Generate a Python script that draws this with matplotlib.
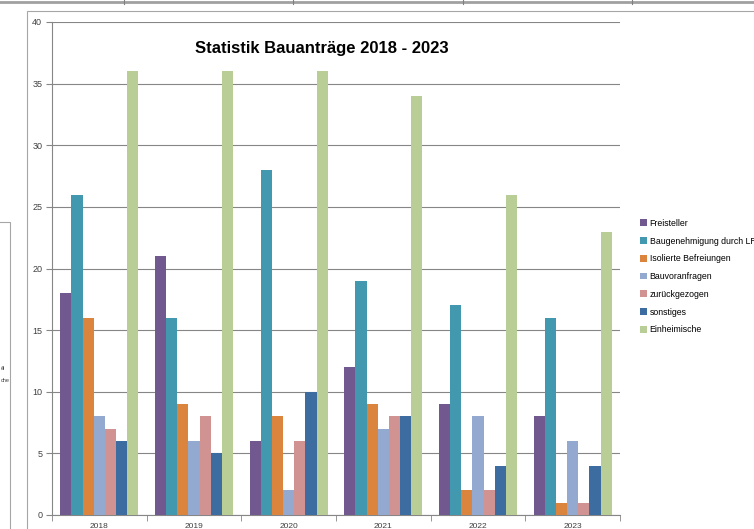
import numpy as np
import matplotlib.pyplot as plt
from matplotlib.patches import Rectangle
from matplotlib.lines import Line2D

plt.rcParams['font.family'] = ['Liberation Sans', 'DejaVu Sans']

years = ['2018', '2019', '2020', '2021', '2022', '2023']
series = ['Freisteller', 'Baugenehmigung durch LRA', 'Isolierte Befreiungen',
          'Bauvoranfragen', 'zurückgezogen', 'sonstiges', 'Einheimische']
freisteller = [18, 21, 6, 12, 9, 8]
baugenehmigung = [26, 16, 28, 19, 17, 16]
isolierte = [16, 9, 8, 9, 2, 1]
bauvoranfragen = [8, 6, 2, 7, 8, 6]
zurueck = [7, 8, 6, 8, 2, 1]
sonstiges = [6, 5, 10, 8, 4, 4]
einheimische = [36, 36, 36, 34, 26, 23]
values = [freisteller, baugenehmigung, isolierte, bauvoranfragen, zurueck, sonstiges, einheimische]
colors = ['#71588F', '#4198AF', '#DB843D', '#93A9CF', '#D19392', '#3D6DA0', '#B9CD96']

fig = plt.figure(figsize=(7.54, 5.29), dpi=100)
W, H = 754, 529

# spreadsheet background bits
fig.add_artist(Line2D([0, 1], [1 - 1.5/H, 1 - 1.5/H], color='#A0A0A0', lw=2))
for xt in [124, 293, 463, 632]:
    fig.add_artist(Line2D([xt/W, xt/W], [1 - 4/H, 1], color='#808080', lw=0.8))
fig.add_artist(Rectangle((27/W, -0.01), 1, 1 - 11/H + 0.01, transform=fig.transFigure,
                         fill=False, ec='#A6A6A6', lw=0.8))
fig.add_artist(Rectangle((-0.01, -0.01), 17.5/W, 1 - 222/H + 0.01, transform=fig.transFigure,
                         fill=False, ec='#A6A6A6', lw=0.8))
fig.text(1/W, 1 - 369/H, 'ěl', fontsize=4, color='#404040', va='center')
fig.text(1/W, 1 - 381/H, 'che', fontsize=4, color='#404040', va='center')

ax = fig.add_axes([52/W, 1 - 515/H, (620 - 52)/W, (515 - 22)/H])
n = len(series)
bw = 1 / 8.5
x = np.arange(len(years))
for i, (s, v, c) in enumerate(zip(series, values, colors)):
    ax.bar(x + (i - (n - 1) / 2) * bw, v, bw, color=c, label=s, zorder=3)

ax.set_xlim(-0.5, len(years) - 0.5)
ax.set_ylim(0, 40)
ax.set_yticks(range(0, 41, 5))
ax.yaxis.grid(True, color='#868686', lw=0.8, zorder=0)
ax.set_xticks(x)
ax.set_xticklabels(years)
ax.set_xticks(np.arange(-0.5, len(years)), minor=True)
ax.tick_params(axis='x', which='major', length=0, labelsize=6, pad=6, colors='#404040')
ax.tick_params(axis='x', which='minor', length=4, color='#868686')
ax.tick_params(axis='y', length=4, color='#868686', labelsize=6.5, labelcolor='#404040', pad=3)
for side in ['top', 'right']:
    ax.spines[side].set_visible(False)
for side in ['left', 'bottom']:
    ax.spines[side].set_color('#868686')
    ax.spines[side].set_linewidth(0.8)

fig.text(322/W, 1 - 48/H, 'Statistik Bauanträge 2018 - 2023', fontsize=12, fontweight='bold',
         ha='center', va='center')

fig.legend(loc='upper left', bbox_to_anchor=(632/W, 1 - 211/H), frameon=False,
           fontsize=6.3, handlelength=0.8, handleheight=0.8, handletextpad=0.3,
           labelspacing=1.0)

fig.savefig('out.png', dpi=100)
